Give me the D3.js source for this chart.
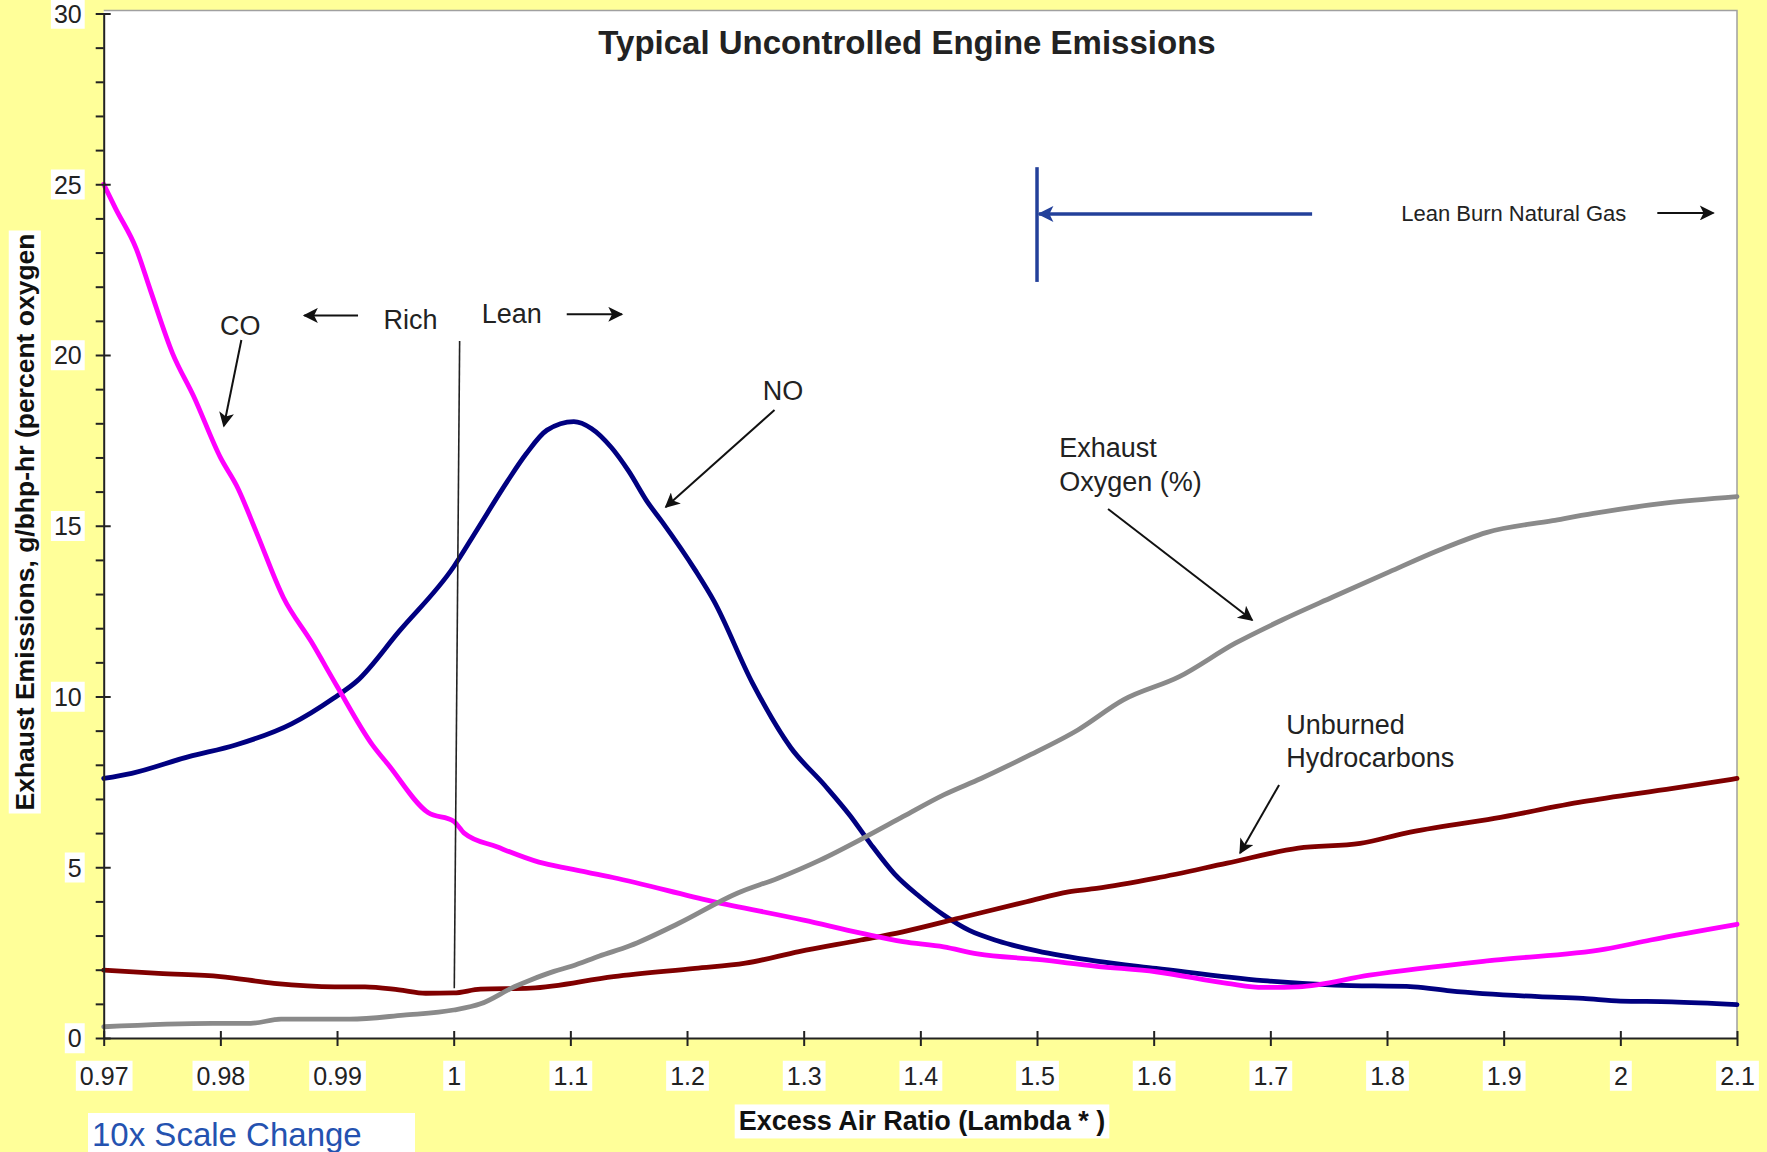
<!DOCTYPE html>
<html>
<head>
<meta charset="utf-8">
<script src="https://cdn.jsdelivr.net/npm/d3@7"></script>
<style>
  body { margin: 0; background: #ffff99; }
  svg { display: block; }
  text { font-family: "Liberation Sans", Arial, Helvetica, sans-serif; }
</style>
</head>
<body>
<svg id="chart" width="1767" height="1152"></svg>
<script>
// lambda (excess air ratio) and emissions
const coX = [0.97, 0.971, 0.9728, 0.974, 0.9759, 0.9777, 0.98, 0.9815, 0.9831, 0.9854, 0.9878, 0.990, 0.993, 0.9944, 0.9978, 1.0, 1.009, 1.037, 1.073, 1.1, 1.1365, 1.2216, 1.3, 1.349, 1.385, 1.42, 1.449, 1.5, 1.551, 1.602, 1.663, 1.694, 1.724, 1.785, 1.892, 1.987, 2.026, 2.1];
const coY = [25.0, 24.3, 23.1, 21.9, 20.05, 18.8, 17.0, 16.1, 14.8, 12.9, 11.6, 10.3, 8.6, 8.0, 6.6, 6.35, 6.0, 5.6, 5.15, 4.95, 4.7, 4.0, 3.45, 3.07, 2.82, 2.67, 2.46, 2.3, 2.1, 1.94, 1.6, 1.48, 1.5, 1.84, 2.28, 2.6, 2.87, 3.33];

const noX = [0.97, 0.9724, 0.9773, 0.9813, 0.9861, 0.9897, 0.9917, 0.9953, 1.0, 1.0203, 1.046, 1.062, 1.08, 1.103, 1.118, 1.135, 1.15, 1.166, 1.179, 1.207, 1.223, 1.256, 1.289, 1.318, 1.34, 1.357, 1.378, 1.399, 1.42, 1.442, 1.466, 1.5, 1.551, 1.602, 1.694, 1.755, 1.823, 1.854, 1.93, 1.968, 2.0, 2.044, 2.1];
const noY = [7.6, 7.75, 8.24, 8.58, 9.2, 9.95, 10.45, 11.9, 13.8, 14.9, 16.3, 17.1, 17.8, 18.05, 17.85, 17.3, 16.6, 15.7, 15.1, 13.7, 12.8, 10.4, 8.5, 7.4, 6.5, 5.7, 4.8, 4.15, 3.6, 3.15, 2.85, 2.55, 2.25, 2.04, 1.68, 1.55, 1.5, 1.38, 1.21, 1.16, 1.08, 1.06, 0.98];

const o2X = [0.97, 0.9793, 0.9826, 0.9852, 0.9911, 0.9957, 1.0, 1.023, 1.052, 1.066, 1.086, 1.101, 1.125, 1.151, 1.193, 1.243, 1.278, 1.314, 1.353, 1.385, 1.42, 1.452, 1.491, 1.535, 1.574, 1.622, 1.67, 1.71, 1.754, 1.802, 1.845, 1.885, 1.942, 1.977, 2.038, 2.1];
const o2Y = [0.33, 0.43, 0.43, 0.55, 0.55, 0.67, 0.82, 1.0, 1.5, 1.7, 1.95, 2.1, 2.4, 2.7, 3.36, 4.24, 4.68, 5.21, 5.89, 6.48, 7.12, 7.6, 8.24, 9.02, 9.9, 10.58, 11.56, 12.24, 12.92, 13.65, 14.29, 14.8, 15.15, 15.36, 15.66, 15.85];

const hcX = [0.97, 0.9747, 0.98, 0.9846, 0.9898, 0.9924, 0.9953, 0.9976, 1.0, 1.023, 1.066, 1.137, 1.207, 1.25, 1.296, 1.349, 1.385, 1.438, 1.491, 1.527, 1.551, 1.602, 1.663, 1.724, 1.777, 1.816, 1.892, 1.968, 2.045, 2.1];
const hcY = [1.99, 1.89, 1.80, 1.60, 1.50, 1.50, 1.41, 1.31, 1.32, 1.43, 1.46, 1.80, 2.04, 2.19, 2.53, 2.87, 3.11, 3.55, 3.99, 4.28, 4.38, 4.68, 5.12, 5.56, 5.70, 6.0, 6.43, 6.92, 7.31, 7.60];

const xTicks = [0.97, 0.98, 0.99, 1, 1.1, 1.2, 1.3, 1.4, 1.5, 1.6, 1.7, 1.8, 1.9, 2, 2.1];
const xTickLabels = ['0.97', '0.98', '0.99', '1', '1.1', '1.2', '1.3', '1.4', '1.5', '1.6', '1.7', '1.8', '1.9', '2', '2.1'];
const yMajor = [0, 5, 10, 15, 20, 25, 30];
const yMinor = [1, 2, 3, 4, 6, 7, 8, 9, 11, 12, 13, 14, 16, 17, 18, 19, 21, 22, 23, 24, 26, 27, 28, 29];

const W = 1767, H = 1152;
const plotL = 103.7, plotR = 1737, plotT = 13.5, plotB = 1038;
const step = (plotR - plotL) / 14;

// x axis changes scale by 10x at lambda = 1
const x = d3.scaleLinear().domain([0.97, 1, 2.1]).range([plotL, plotL + 3 * step, plotR]);
const y = d3.scaleLinear().domain([0, 30]).range([plotB, plotT]);

const svg = d3.select('#chart');
svg.append('rect').attr('width', W).attr('height', H).attr('fill', '#ffff99');
svg.append('rect')
  .attr('x', plotL).attr('y', plotT - 3)
  .attr('width', plotR - plotL).attr('height', plotB - plotT + 3)
  .attr('fill', '#fff');
svg.append('path')
  .attr('d', `M${plotL},${plotT - 3}H${plotR}V${plotB}`)
  .attr('fill', 'none').attr('stroke', '#a0a0a0').attr('stroke-width', 1.5);

const defs = svg.append('defs');
function marker(id, color, w, h) {
  defs.append('marker').attr('id', id)
    .attr('viewBox', '0 0 10 10').attr('refX', 9).attr('refY', 5)
    .attr('markerUnits', 'userSpaceOnUse')
    .attr('markerWidth', w).attr('markerHeight', h)
    .attr('orient', 'auto')
    .append('path').attr('d', 'M0,0L10,5L0,10L2.5,5Z').attr('fill', color);
}
marker('arr', '#111', 22, 15);
marker('arrBlue', '#23409a', 18, 16);

// curves
const line = d3.line().x(d => x(d[0])).y(d => y(d[1])).curve(d3.curveMonotoneX);
const series = [
  { xs: noX, ys: noY, color: '#000080' },
  { xs: hcX, ys: hcY, color: '#800000' },
  { xs: coX, ys: coY, color: '#ff00ff' },
  { xs: o2X, ys: o2Y, color: '#8a8a8a' }
];
series.forEach(s => {
  svg.append('path')
    .datum(s.xs.map((v, i) => [v, s.ys[i]]))
    .attr('d', line)
    .attr('fill', 'none')
    .attr('stroke', s.color)
    .attr('stroke-width', 4.8)
    .attr('stroke-linejoin', 'round')
    .attr('stroke-linecap', 'round');
});

// rich / lean divider at lambda = 1
svg.append('line')
  .attr('x1', x(1.0051)).attr('y1', y(20.41))
  .attr('x2', x(1.0005)).attr('y2', y(1.46))
  .attr('stroke', '#222').attr('stroke-width', 1.6);

// axes
function whiteBoxes(g, pad) {
  g.selectAll('.tick text').each(function () {
    const b = this.getBBox();
    d3.select(this.parentNode).insert('rect', 'text')
      .attr('x', b.x - pad).attr('y', b.y - 1)
      .attr('width', b.width + 2 * pad).attr('height', b.height + 2)
      .attr('fill', '#fff');
  });
}

const gyMinor = svg.append('g').attr('transform', `translate(${plotL},0)`)
  .call(d3.axisLeft(y).tickValues(yMinor).tickSize(8).tickSizeOuter(0).tickFormat(''));
gyMinor.select('.domain').remove();
gyMinor.selectAll('.tick line').attr('stroke', '#222').attr('stroke-width', 2);

const gy = svg.append('g').attr('transform', `translate(${plotL},0)`)
  .call(d3.axisLeft(y).tickValues(yMajor).tickSize(8).tickSizeOuter(0).tickPadding(14));
gy.select('.domain').attr('stroke', '#222').attr('stroke-width', 2);
gy.selectAll('.tick line').attr('x1', 7).attr('stroke', '#222').attr('stroke-width', 2);
gy.selectAll('.tick text')
  .attr('font-size', 25).attr('fill', '#222').attr('dy', '0.35em')
  .attr('font-family', '"Liberation Sans", Arial, sans-serif');
whiteBoxes(gy, 3);

const gx = svg.append('g').attr('transform', `translate(0,${plotB})`)
  .call(d3.axisBottom(x).tickValues(xTicks).tickSize(8).tickSizeOuter(0)
    .tickFormat((d, i) => xTickLabels[i]));
gx.select('.domain').attr('stroke', '#222').attr('stroke-width', 2);
gx.selectAll('.tick line').attr('y1', -7).attr('stroke', '#222').attr('stroke-width', 2);
gx.selectAll('.tick text')
  .attr('y', 38).attr('dy', '0.35em')
  .attr('font-size', 25).attr('fill', '#222')
  .attr('font-family', '"Liberation Sans", Arial, sans-serif');
whiteBoxes(gx, 4);

// titles
svg.append('text')
  .attr('x', 907).attr('y', 54)
  .attr('text-anchor', 'middle')
  .attr('font-size', 33).attr('font-weight', 'bold').attr('fill', '#222')
  .text('Typical Uncontrolled Engine Emissions');

function boxedText(g, pad) {
  const t = g.select('text').node();
  const b = t.getBBox();
  g.insert('rect', 'text')
    .attr('x', b.x - pad).attr('y', b.y - 2)
    .attr('width', b.width + 2 * pad).attr('height', b.height + 4)
    .attr('fill', '#fff');
}

const xTitle = svg.append('g');
xTitle.append('text')
  .attr('x', 922).attr('y', 1121).attr('dy', '0.35em')
  .attr('text-anchor', 'middle')
  .attr('font-size', 27).attr('font-weight', 'bold').attr('fill', '#111')
  .text('Excess Air Ratio (Lambda * )');
boxedText(xTitle, 4);

const yTitle = svg.append('g').attr('transform', 'translate(25,522) rotate(-90)');
yTitle.append('text')
  .attr('x', 0).attr('y', 0).attr('dy', '0.35em')
  .attr('text-anchor', 'middle')
  .attr('font-size', 25).attr('font-weight', 'bold').attr('fill', '#111')
  .attr('textLength', 577).attr('lengthAdjust', 'spacingAndGlyphs')
  .text('Exhaust Emissions, g/bhp-hr (percent oxygen');
boxedText(yTitle, 3);

const scaleNote = svg.append('g');
scaleNote.append('rect')
  .attr('x', 88).attr('y', 1113).attr('width', 327).attr('height', 39)
  .attr('fill', '#fff');
scaleNote.append('text')
  .attr('x', 92).attr('y', 1146)
  .attr('font-size', 33).attr('fill', '#2452b0')
  .text('10x Scale Change');

// curve annotations (placed in data units)
const notes = [
  { text: 'CO', x: 0.9817, y: 20.85, anchor: 'middle' },
  { text: 'Rich', x: 0.9963, y: 21.05, anchor: 'middle' },
  { text: 'Lean', x: 1.0497, y: 21.2, anchor: 'middle' },
  { text: 'NO', x: 1.2822, y: 18.97, anchor: 'middle' },
  { text: 'Exhaust', x: 1.5191, y: 17.28, anchor: 'start' },
  { text: 'Oxygen (%)', x: 1.5191, y: 16.28, anchor: 'start' },
  { text: 'Unburned', x: 1.7136, y: 9.17, anchor: 'start' },
  { text: 'Hydrocarbons', x: 1.7136, y: 8.2, anchor: 'start' }
];
svg.selectAll('text.note').data(notes).enter().append('text')
  .attr('class', 'note')
  .attr('x', d => x(d.x)).attr('y', d => y(d.y)).attr('dy', '0.35em')
  .attr('text-anchor', d => d.anchor)
  .attr('font-size', 27).attr('fill', '#222')
  .text(d => d.text);

const pointers = [
  [0.9818, 20.44, 0.9803, 17.92],
  [0.9918, 21.16, 0.9872, 21.16],
  [1.0969, 21.19, 1.1441, 21.19],
  [1.275, 18.39, 1.1818, 15.55],
  [1.5609, 15.49, 1.6844, 12.24],
  [1.7075, 7.41, 1.6741, 5.42],
  [2.0317, 24.16, 2.0797, 24.16]
];
svg.selectAll('line.ptr').data(pointers).enter().append('line')
  .attr('class', 'ptr')
  .attr('x1', d => x(d[0])).attr('y1', d => y(d[1]))
  .attr('x2', d => x(d[2])).attr('y2', d => y(d[3]))
  .attr('stroke', '#111').attr('stroke-width', 2)
  .attr('marker-end', 'url(#arr)');

// lean burn natural gas region
svg.append('line')
  .attr('x1', x(1.5)).attr('y1', y(25.5))
  .attr('x2', x(1.5)).attr('y2', y(22.14))
  .attr('stroke', '#23409a').attr('stroke-width', 3.5);
svg.append('line')
  .attr('x1', x(1.7358)).attr('y1', y(24.13))
  .attr('x2', x(1.5) + 2).attr('y2', y(24.13))
  .attr('stroke', '#23409a').attr('stroke-width', 3.5)
  .attr('marker-end', 'url(#arrBlue)');
svg.append('text')
  .attr('x', x(1.8122)).attr('y', y(24.16)).attr('dy', '0.35em')
  .attr('font-size', 22).attr('fill', '#222')
  .text('Lean Burn Natural Gas');
</script>
</body>
</html>
